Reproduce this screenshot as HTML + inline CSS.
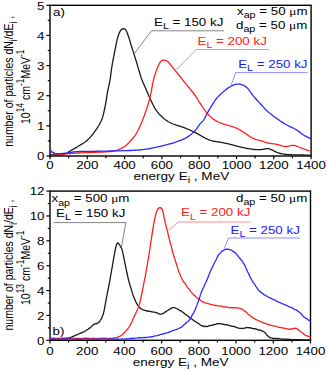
<!DOCTYPE html>
<html><head><meta charset="utf-8"><style>
html,body{margin:0;padding:0;background:#fff;overflow:hidden}
svg{display:block}
text{font-family:"Liberation Sans",sans-serif}
</style></head><body>
<svg width="327" height="370" viewBox="0 0 327 370">
<rect width="327" height="370" fill="#fff"/>
<rect x="50.0" y="5.3" width="261.1" height="150.7" fill="none" stroke="#000" stroke-width="1.4"/>
<line x1="50.00" y1="156.0" x2="50.00" y2="159.2" stroke="#000" stroke-width="1.2"/>
<line x1="68.65" y1="156.0" x2="68.65" y2="158.2" stroke="#000" stroke-width="1.2"/>
<line x1="87.30" y1="156.0" x2="87.30" y2="159.2" stroke="#000" stroke-width="1.2"/>
<line x1="105.95" y1="156.0" x2="105.95" y2="158.2" stroke="#000" stroke-width="1.2"/>
<line x1="124.60" y1="156.0" x2="124.60" y2="159.2" stroke="#000" stroke-width="1.2"/>
<line x1="143.25" y1="156.0" x2="143.25" y2="158.2" stroke="#000" stroke-width="1.2"/>
<line x1="161.90" y1="156.0" x2="161.90" y2="159.2" stroke="#000" stroke-width="1.2"/>
<line x1="180.55" y1="156.0" x2="180.55" y2="158.2" stroke="#000" stroke-width="1.2"/>
<line x1="199.20" y1="156.0" x2="199.20" y2="159.2" stroke="#000" stroke-width="1.2"/>
<line x1="217.85" y1="156.0" x2="217.85" y2="158.2" stroke="#000" stroke-width="1.2"/>
<line x1="236.50" y1="156.0" x2="236.50" y2="159.2" stroke="#000" stroke-width="1.2"/>
<line x1="255.15" y1="156.0" x2="255.15" y2="158.2" stroke="#000" stroke-width="1.2"/>
<line x1="273.80" y1="156.0" x2="273.80" y2="159.2" stroke="#000" stroke-width="1.2"/>
<line x1="292.45" y1="156.0" x2="292.45" y2="158.2" stroke="#000" stroke-width="1.2"/>
<line x1="311.10" y1="156.0" x2="311.10" y2="159.2" stroke="#000" stroke-width="1.2"/>
<line x1="46.4" y1="156.00" x2="50.0" y2="156.00" stroke="#000" stroke-width="1.2"/>
<line x1="47.8" y1="140.93" x2="50.0" y2="140.93" stroke="#000" stroke-width="1.2"/>
<line x1="46.4" y1="125.86" x2="50.0" y2="125.86" stroke="#000" stroke-width="1.2"/>
<line x1="47.8" y1="110.79" x2="50.0" y2="110.79" stroke="#000" stroke-width="1.2"/>
<line x1="46.4" y1="95.72" x2="50.0" y2="95.72" stroke="#000" stroke-width="1.2"/>
<line x1="47.8" y1="80.65" x2="50.0" y2="80.65" stroke="#000" stroke-width="1.2"/>
<line x1="46.4" y1="65.58" x2="50.0" y2="65.58" stroke="#000" stroke-width="1.2"/>
<line x1="47.8" y1="50.51" x2="50.0" y2="50.51" stroke="#000" stroke-width="1.2"/>
<line x1="46.4" y1="35.44" x2="50.0" y2="35.44" stroke="#000" stroke-width="1.2"/>
<line x1="47.8" y1="20.37" x2="50.0" y2="20.37" stroke="#000" stroke-width="1.2"/>
<line x1="46.4" y1="5.30" x2="50.0" y2="5.30" stroke="#000" stroke-width="1.2"/>
<rect x="50.0" y="191.1" width="260.5" height="149.20000000000002" fill="none" stroke="#000" stroke-width="1.4"/>
<line x1="50.00" y1="340.3" x2="50.00" y2="343.5" stroke="#000" stroke-width="1.2"/>
<line x1="68.61" y1="340.3" x2="68.61" y2="342.5" stroke="#000" stroke-width="1.2"/>
<line x1="87.21" y1="340.3" x2="87.21" y2="343.5" stroke="#000" stroke-width="1.2"/>
<line x1="105.82" y1="340.3" x2="105.82" y2="342.5" stroke="#000" stroke-width="1.2"/>
<line x1="124.43" y1="340.3" x2="124.43" y2="343.5" stroke="#000" stroke-width="1.2"/>
<line x1="143.04" y1="340.3" x2="143.04" y2="342.5" stroke="#000" stroke-width="1.2"/>
<line x1="161.64" y1="340.3" x2="161.64" y2="343.5" stroke="#000" stroke-width="1.2"/>
<line x1="180.25" y1="340.3" x2="180.25" y2="342.5" stroke="#000" stroke-width="1.2"/>
<line x1="198.86" y1="340.3" x2="198.86" y2="343.5" stroke="#000" stroke-width="1.2"/>
<line x1="217.46" y1="340.3" x2="217.46" y2="342.5" stroke="#000" stroke-width="1.2"/>
<line x1="236.07" y1="340.3" x2="236.07" y2="343.5" stroke="#000" stroke-width="1.2"/>
<line x1="254.68" y1="340.3" x2="254.68" y2="342.5" stroke="#000" stroke-width="1.2"/>
<line x1="273.29" y1="340.3" x2="273.29" y2="343.5" stroke="#000" stroke-width="1.2"/>
<line x1="291.89" y1="340.3" x2="291.89" y2="342.5" stroke="#000" stroke-width="1.2"/>
<line x1="310.50" y1="340.3" x2="310.50" y2="343.5" stroke="#000" stroke-width="1.2"/>
<line x1="46.4" y1="340.30" x2="50.0" y2="340.30" stroke="#000" stroke-width="1.2"/>
<line x1="47.8" y1="327.87" x2="50.0" y2="327.87" stroke="#000" stroke-width="1.2"/>
<line x1="46.4" y1="315.43" x2="50.0" y2="315.43" stroke="#000" stroke-width="1.2"/>
<line x1="47.8" y1="303.00" x2="50.0" y2="303.00" stroke="#000" stroke-width="1.2"/>
<line x1="46.4" y1="290.57" x2="50.0" y2="290.57" stroke="#000" stroke-width="1.2"/>
<line x1="47.8" y1="278.13" x2="50.0" y2="278.13" stroke="#000" stroke-width="1.2"/>
<line x1="46.4" y1="265.70" x2="50.0" y2="265.70" stroke="#000" stroke-width="1.2"/>
<line x1="47.8" y1="253.27" x2="50.0" y2="253.27" stroke="#000" stroke-width="1.2"/>
<line x1="46.4" y1="240.83" x2="50.0" y2="240.83" stroke="#000" stroke-width="1.2"/>
<line x1="47.8" y1="228.40" x2="50.0" y2="228.40" stroke="#000" stroke-width="1.2"/>
<line x1="46.4" y1="215.97" x2="50.0" y2="215.97" stroke="#000" stroke-width="1.2"/>
<line x1="47.8" y1="203.53" x2="50.0" y2="203.53" stroke="#000" stroke-width="1.2"/>
<line x1="46.4" y1="191.10" x2="50.0" y2="191.10" stroke="#000" stroke-width="1.2"/>
<polyline points="50.50,154.80 51.10,154.82 51.91,154.85 52.87,154.89 53.94,154.93 55.04,154.97 56.12,154.99 57.13,155.01 58.00,155.00 58.76,154.97 59.47,154.94 60.15,154.89 60.78,154.82 61.38,154.75 61.95,154.68 62.49,154.59 63.00,154.50 63.47,154.41 63.88,154.31 64.25,154.21 64.59,154.11 64.92,153.98 65.25,153.85 65.61,153.69 66.00,153.50 66.41,153.29 66.83,153.05 67.25,152.79 67.68,152.51 68.13,152.22 68.59,151.92 69.08,151.61 69.60,151.30 70.14,150.98 70.71,150.66 71.29,150.33 71.89,149.99 72.52,149.64 73.16,149.28 73.82,148.90 74.50,148.50 75.21,148.08 75.94,147.65 76.70,147.20 77.47,146.73 78.26,146.26 79.05,145.77 79.83,145.29 80.60,144.80 81.35,144.33 82.10,143.90 82.83,143.47 83.58,143.03 84.32,142.55 85.09,142.02 85.88,141.41 86.70,140.70 87.55,139.91 88.44,139.05 89.35,138.14 90.27,137.16 91.20,136.11 92.14,135.01 93.07,133.84 94.00,132.60 94.95,131.28 95.93,129.87 96.93,128.38 97.93,126.83 98.90,125.24 99.81,123.63 100.66,122.01 101.40,120.40 102.04,118.79 102.59,117.17 103.08,115.52 103.51,113.86 103.90,112.18 104.27,110.48 104.63,108.75 105.00,107.00 105.37,105.20 105.70,103.34 106.02,101.44 106.32,99.53 106.61,97.62 106.90,95.75 107.20,93.94 107.50,92.20 107.82,90.56 108.14,89.01 108.46,87.52 108.78,86.06 109.10,84.60 109.41,83.12 109.71,81.60 110.00,80.00 110.27,78.33 110.52,76.62 110.75,74.88 110.98,73.11 111.21,71.31 111.46,69.51 111.72,67.70 112.00,65.90 112.31,64.08 112.65,62.23 113.00,60.35 113.36,58.48 113.72,56.61 114.09,54.76 114.45,52.96 114.80,51.20 115.14,49.46 115.48,47.72 115.82,45.98 116.15,44.29 116.48,42.65 116.82,41.09 117.16,39.63 117.50,38.30 117.85,37.08 118.20,35.96 118.55,34.93 118.90,33.98 119.25,33.12 119.60,32.34 119.95,31.63 120.30,31.00 120.64,30.46 120.98,30.01 121.32,29.65 121.65,29.36 121.98,29.14 122.32,28.98 122.66,28.87 123.00,28.80 123.35,28.76 123.70,28.76 124.05,28.81 124.40,28.91 124.75,29.09 125.10,29.33 125.45,29.67 125.80,30.10 126.14,30.64 126.48,31.28 126.82,32.00 127.15,32.81 127.48,33.67 127.82,34.58 128.16,35.53 128.50,36.50 128.85,37.52 129.20,38.62 129.55,39.78 129.90,40.98 130.25,42.19 130.60,43.40 130.95,44.57 131.30,45.70 131.64,46.78 131.98,47.82 132.32,48.84 132.65,49.86 132.98,50.87 133.32,51.89 133.66,52.93 134.00,54.00 134.35,55.10 134.70,56.22 135.05,57.35 135.40,58.49 135.75,59.65 136.10,60.80 136.45,61.95 136.80,63.10 137.14,64.26 137.49,65.43 137.83,66.61 138.17,67.79 138.51,68.96 138.84,70.10 139.17,71.22 139.50,72.30 139.81,73.32 140.10,74.28 140.38,75.21 140.66,76.12 140.95,77.03 141.26,77.97 141.61,78.95 142.00,80.00 142.44,81.10 142.90,82.23 143.40,83.38 143.92,84.57 144.46,85.79 145.03,87.05 145.61,88.35 146.20,89.70 146.82,91.12 147.47,92.64 148.14,94.21 148.82,95.81 149.52,97.41 150.22,98.98 150.92,100.49 151.60,101.90 152.26,103.23 152.89,104.50 153.51,105.72 154.13,106.91 154.78,108.06 155.46,109.19 156.20,110.30 157.00,111.40 157.88,112.50 158.84,113.61 159.84,114.70 160.88,115.76 161.94,116.79 163.01,117.76 164.07,118.67 165.10,119.50 166.09,120.24 167.06,120.90 168.02,121.49 168.98,122.03 169.96,122.54 170.99,123.02 172.06,123.51 173.20,124.00 174.42,124.48 175.71,124.94 177.05,125.36 178.42,125.78 179.82,126.20 181.23,126.64 182.63,127.10 184.00,127.60 185.39,128.15 186.83,128.75 188.29,129.37 189.74,130.01 191.16,130.65 192.51,131.27 193.77,131.86 194.90,132.40 195.90,132.90 196.80,133.37 197.60,133.82 198.34,134.24 199.03,134.65 199.69,135.05 200.34,135.43 201.00,135.80 201.65,136.16 202.25,136.49 202.82,136.81 203.37,137.11 203.93,137.41 204.49,137.70 205.07,138.00 205.70,138.30 206.35,138.61 207.01,138.93 207.69,139.26 208.37,139.57 209.09,139.88 209.82,140.18 210.59,140.45 211.40,140.70 212.24,140.91 213.10,141.09 213.99,141.24 214.91,141.38 215.86,141.52 216.84,141.66 217.85,141.82 218.90,142.00 220.00,142.21 221.18,142.43 222.40,142.67 223.64,142.91 224.89,143.16 226.11,143.41 227.29,143.66 228.40,143.90 229.44,144.14 230.44,144.38 231.39,144.61 232.33,144.85 233.24,145.09 234.15,145.33 235.07,145.56 236.00,145.80 236.94,146.04 237.88,146.29 238.82,146.53 239.75,146.78 240.68,147.02 241.62,147.26 242.56,147.49 243.50,147.70 244.47,147.91 245.48,148.11 246.51,148.31 247.52,148.49 248.52,148.67 249.46,148.83 250.33,148.98 251.10,149.10 251.75,149.20 252.27,149.28 252.72,149.34 253.12,149.39 253.51,149.42 253.93,149.45 254.41,149.48 255.00,149.50 255.69,149.53 256.44,149.55 257.25,149.57 258.09,149.58 258.95,149.58 259.81,149.57 260.67,149.55 261.50,149.50 262.33,149.41 263.18,149.28 264.03,149.12 264.89,148.96 265.72,148.80 266.53,148.68 267.29,148.60 268.00,148.60 268.63,148.66 269.18,148.77 269.68,148.93 270.16,149.11 270.63,149.33 271.13,149.57 271.68,149.83 272.30,150.10 272.98,150.41 273.70,150.76 274.45,151.15 275.23,151.55 276.04,151.95 276.89,152.34 277.78,152.69 278.70,153.00 279.66,153.26 280.66,153.50 281.70,153.71 282.77,153.91 283.88,154.08 285.02,154.24 286.20,154.37 287.40,154.50 288.64,154.60 289.92,154.68 291.23,154.74 292.57,154.78 293.95,154.81 295.35,154.84 296.76,154.87 298.20,154.90 299.75,154.94 301.46,154.97 303.24,155.00 305.03,155.03 306.72,155.05 308.25,155.07 309.54,155.09 310.50,155.10" fill="none" stroke="#1a1a1a" stroke-width="1.3" stroke-linejoin="round" stroke-linecap="round"/>
<polyline points="50.50,151.50 50.91,151.71 51.43,152.01 52.05,152.36 52.75,152.75 53.51,153.14 54.32,153.49 55.16,153.79 56.00,154.00 56.84,154.13 57.68,154.20 58.55,154.23 59.47,154.22 60.45,154.18 61.52,154.13 62.70,154.06 64.00,154.00 65.42,153.92 66.91,153.82 68.50,153.69 70.19,153.55 71.97,153.40 73.87,153.26 75.87,153.12 78.00,153.00 80.33,152.89 82.91,152.80 85.64,152.70 88.46,152.61 91.29,152.52 94.04,152.42 96.63,152.32 99.00,152.20 101.16,152.09 103.21,151.99 105.15,151.89 107.00,151.78 108.76,151.65 110.44,151.49 112.05,151.27 113.60,151.00 115.08,150.67 116.46,150.30 117.77,149.89 119.00,149.44 120.17,148.95 121.29,148.43 122.36,147.88 123.40,147.30 124.37,146.70 125.26,146.09 126.08,145.45 126.86,144.78 127.61,144.05 128.38,143.27 129.16,142.43 130.00,141.50 130.88,140.52 131.78,139.52 132.69,138.46 133.61,137.34 134.54,136.13 135.47,134.82 136.39,133.38 137.30,131.80 138.22,130.05 139.15,128.12 140.08,126.06 141.01,123.89 141.93,121.67 142.82,119.42 143.68,117.19 144.50,115.00 145.28,112.84 146.04,110.65 146.77,108.45 147.48,106.24 148.16,104.02 148.81,101.80 149.42,99.60 150.00,97.40 150.53,95.17 151.01,92.89 151.45,90.59 151.87,88.31 152.27,86.07 152.66,83.92 153.07,81.88 153.50,80.00 153.94,78.27 154.39,76.65 154.84,75.14 155.29,73.72 155.74,72.38 156.19,71.10 156.64,69.88 157.10,68.70 157.56,67.55 158.02,66.45 158.48,65.40 158.94,64.42 159.41,63.51 159.87,62.70 160.34,61.99 160.80,61.40 161.26,60.94 161.73,60.60 162.19,60.38 162.66,60.24 163.12,60.17 163.58,60.15 164.04,60.17 164.50,60.20 164.95,60.26 165.40,60.36 165.85,60.51 166.30,60.70 166.75,60.94 167.20,61.22 167.65,61.54 168.10,61.90 168.55,62.31 168.99,62.77 169.43,63.28 169.87,63.82 170.32,64.41 170.79,65.02 171.28,65.65 171.80,66.30 172.36,66.98 172.94,67.71 173.55,68.46 174.18,69.24 174.81,70.04 175.45,70.84 176.08,71.63 176.70,72.40 177.33,73.18 177.98,74.00 178.65,74.82 179.31,75.64 179.95,76.43 180.55,77.19 181.11,77.88 181.60,78.50 181.96,78.96 182.18,79.24 182.31,79.43 182.43,79.59 182.59,79.81 182.86,80.17 183.31,80.74 184.00,81.60 185.00,82.82 186.26,84.35 187.72,86.10 189.28,87.98 190.86,89.90 192.38,91.77 193.76,93.50 194.90,95.00 195.80,96.26 196.52,97.36 197.13,98.35 197.66,99.28 198.16,100.19 198.69,101.11 199.28,102.10 200.00,103.20 200.83,104.43 201.73,105.75 202.67,107.14 203.65,108.55 204.65,109.95 205.65,111.30 206.64,112.56 207.60,113.70 208.54,114.73 209.48,115.70 210.42,116.60 211.35,117.44 212.28,118.23 213.22,118.97 214.16,119.65 215.10,120.30 216.05,120.89 216.99,121.40 217.94,121.86 218.89,122.27 219.85,122.65 220.80,123.00 221.75,123.35 222.70,123.70 223.65,124.04 224.60,124.34 225.55,124.62 226.50,124.89 227.45,125.15 228.40,125.42 229.35,125.70 230.30,126.00 231.25,126.31 232.20,126.62 233.15,126.93 234.11,127.25 235.06,127.59 236.01,127.95 236.95,128.36 237.90,128.80 238.84,129.30 239.78,129.84 240.72,130.42 241.65,131.03 242.58,131.65 243.52,132.27 244.46,132.89 245.40,133.50 246.34,134.11 247.27,134.74 248.20,135.39 249.14,136.03 250.08,136.66 251.03,137.25 252.01,137.80 253.00,138.30 254.03,138.73 255.11,139.12 256.21,139.46 257.32,139.77 258.42,140.06 259.49,140.34 260.53,140.61 261.50,140.90 262.39,141.19 263.22,141.48 263.99,141.76 264.74,142.03 265.50,142.29 266.27,142.54 267.10,142.78 268.00,143.00 268.97,143.19 270.00,143.36 271.07,143.51 272.17,143.64 273.28,143.78 274.40,143.93 275.51,144.10 276.60,144.30 277.67,144.55 278.75,144.86 279.82,145.20 280.89,145.55 281.97,145.88 283.04,146.16 284.12,146.38 285.20,146.50 286.28,146.49 287.37,146.36 288.46,146.14 289.55,145.89 290.64,145.64 291.73,145.45 292.82,145.35 293.90,145.40 294.98,145.60 296.07,145.91 297.16,146.31 298.24,146.77 299.32,147.25 300.39,147.74 301.45,148.20 302.50,148.60 303.58,148.97 304.73,149.35 305.90,149.73 307.04,150.10 308.11,150.44 309.08,150.75 309.89,151.00 310.50,151.20" fill="none" stroke="#ff2020" stroke-width="1.3" stroke-linejoin="round" stroke-linecap="round"/>
<polyline points="50.50,150.40 50.69,150.57 50.93,150.80 51.22,151.08 51.54,151.38 51.89,151.69 52.26,152.00 52.63,152.27 53.00,152.50 53.36,152.69 53.72,152.87 54.08,153.04 54.46,153.19 54.87,153.32 55.30,153.43 55.78,153.53 56.30,153.60 56.88,153.65 57.50,153.67 58.16,153.68 58.86,153.66 59.57,153.63 60.31,153.60 61.05,153.55 61.80,153.50 62.53,153.44 63.26,153.38 63.98,153.30 64.73,153.22 65.51,153.13 66.34,153.02 67.23,152.92 68.20,152.80 69.18,152.67 70.12,152.52 71.09,152.35 72.12,152.18 73.28,152.01 74.61,151.86 76.17,151.72 78.00,151.60 80.11,151.51 82.45,151.45 85.00,151.40 87.74,151.37 90.63,151.34 93.65,151.30 96.78,151.26 100.00,151.20 103.46,151.13 107.26,151.06 111.27,150.99 115.36,150.91 119.41,150.82 123.28,150.72 126.86,150.62 130.00,150.50 132.69,150.38 135.02,150.27 137.09,150.15 138.96,150.02 140.73,149.87 142.47,149.69 144.27,149.47 146.20,149.20 148.24,148.88 150.31,148.51 152.39,148.10 154.46,147.66 156.52,147.20 158.53,146.73 160.50,146.26 162.40,145.80 164.24,145.35 166.05,144.90 167.81,144.44 169.54,143.97 171.22,143.50 172.86,143.02 174.45,142.52 176.00,142.00 177.50,141.48 178.96,140.95 180.37,140.42 181.74,139.88 183.07,139.31 184.36,138.71 185.60,138.08 186.80,137.40 187.96,136.67 189.09,135.90 190.17,135.08 191.21,134.24 192.20,133.38 193.15,132.51 194.05,131.65 194.90,130.80 195.69,129.94 196.42,129.05 197.09,128.14 197.72,127.24 198.32,126.35 198.89,125.51 199.45,124.72 200.00,124.00 200.53,123.39 201.03,122.87 201.49,122.42 201.94,122.00 202.38,121.58 202.81,121.13 203.25,120.61 203.70,120.00 204.15,119.28 204.60,118.49 205.05,117.64 205.50,116.75 205.95,115.84 206.40,114.94 206.85,114.05 207.30,113.20 207.75,112.39 208.18,111.62 208.60,110.85 209.03,110.09 209.48,109.32 209.95,108.52 210.45,107.69 211.00,106.80 211.60,105.83 212.25,104.79 212.93,103.70 213.64,102.59 214.36,101.49 215.08,100.42 215.80,99.42 216.50,98.50 217.19,97.67 217.88,96.91 218.56,96.19 219.25,95.52 219.94,94.87 220.62,94.25 221.31,93.63 222.00,93.00 222.69,92.37 223.40,91.74 224.10,91.13 224.81,90.52 225.50,89.95 226.19,89.40 226.86,88.88 227.50,88.40 228.12,87.96 228.71,87.56 229.29,87.20 229.86,86.86 230.41,86.54 230.97,86.25 231.53,85.97 232.10,85.70 232.67,85.44 233.23,85.19 233.79,84.96 234.34,84.74 234.91,84.56 235.49,84.40 236.08,84.28 236.70,84.20 237.34,84.15 238.01,84.13 238.70,84.14 239.39,84.18 240.10,84.26 240.80,84.39 241.51,84.57 242.20,84.80 242.89,85.08 243.57,85.40 244.26,85.76 244.95,86.17 245.64,86.64 246.32,87.16 247.01,87.75 247.70,88.40 248.37,89.13 249.01,89.94 249.64,90.82 250.27,91.75 250.93,92.73 251.63,93.73 252.38,94.76 253.20,95.80 254.12,96.88 255.12,98.03 256.19,99.22 257.29,100.44 258.40,101.65 259.49,102.83 260.53,103.95 261.50,105.00 262.37,105.96 263.15,106.84 263.88,107.67 264.60,108.47 265.33,109.26 266.12,110.06 267.00,110.90 268.00,111.80 269.15,112.77 270.43,113.80 271.79,114.86 273.21,115.94 274.65,117.00 276.07,118.03 277.43,119.01 278.70,119.90 279.88,120.71 281.02,121.47 282.11,122.17 283.18,122.84 284.23,123.47 285.28,124.09 286.33,124.70 287.40,125.30 288.49,125.88 289.58,126.43 290.68,126.94 291.77,127.45 292.85,127.96 293.92,128.47 294.97,129.02 296.00,129.60 297.00,130.23 297.99,130.91 298.95,131.62 299.91,132.34 300.85,133.05 301.77,133.74 302.69,134.40 303.60,135.00 304.54,135.57 305.54,136.13 306.54,136.67 307.53,137.19 308.45,137.66 309.28,138.07 309.97,138.43 310.50,138.70" fill="none" stroke="#2a2aff" stroke-width="1.3" stroke-linejoin="round" stroke-linecap="round"/>
<polyline points="50.50,338.80 51.21,338.82 52.16,339.09 53.28,338.63 54.54,339.13 55.87,338.76 57.22,338.82 58.55,339.05 59.80,338.75 61.02,338.77 62.27,338.39 63.55,338.74 64.82,338.52 66.09,338.28 67.31,338.40 68.49,337.92 69.60,337.77 70.64,337.28 71.63,337.08 72.57,336.55 73.48,336.15 74.36,335.99 75.22,335.27 76.06,334.97 76.90,334.89 77.72,334.55 78.51,334.10 79.28,333.72 80.03,333.30 80.77,332.96 81.50,333.15 82.25,332.57 83.00,331.97 83.77,331.87 84.55,331.55 85.34,331.00 86.12,330.71 86.90,329.70 87.66,329.51 88.39,328.98 89.10,328.24 89.78,328.06 90.44,327.62 91.08,326.89 91.70,326.10 92.30,325.88 92.89,325.16 93.45,324.69 94.00,324.45 94.52,323.82 95.01,324.05 95.48,323.88 95.93,323.88 96.37,323.46 96.80,323.73 97.25,323.19 97.70,322.85 98.17,322.94 98.65,322.52 99.14,322.06 99.62,321.29 100.09,320.59 100.55,319.81 100.99,319.52 101.40,318.83 101.78,318.12 102.14,316.95 102.48,316.03 102.81,315.34 103.12,314.45 103.42,313.51 103.71,311.93 104.00,310.99 104.27,310.04 104.52,308.50 104.76,307.30 104.99,305.61 105.22,304.60 105.46,303.30 105.72,301.75 106.00,300.23 106.31,298.49 106.65,296.56 107.00,295.13 107.36,293.01 107.72,291.57 108.09,289.28 108.45,287.91 108.80,285.70 109.14,284.03 109.48,282.20 109.82,280.62 110.15,278.51 110.48,276.81 110.82,274.72 111.16,272.99 111.50,271.15 111.85,268.93 112.22,267.09 112.59,264.71 112.96,262.69 113.32,260.46 113.67,258.25 114.00,256.60 114.30,254.78 114.57,253.43 114.82,251.85 115.05,250.81 115.26,249.56 115.47,249.11 115.67,247.80 115.88,247.01 116.10,246.14 116.32,245.53 116.55,245.18 116.77,244.55 116.99,243.69 117.22,243.41 117.44,243.10 117.67,243.02 117.90,242.77 118.13,242.89 118.37,243.23 118.61,243.49 118.85,243.67 119.09,244.17 119.33,244.59 119.57,244.88 119.80,245.32 120.03,245.68 120.26,245.98 120.48,246.23 120.71,246.66 120.93,247.20 121.15,247.44 121.38,247.90 121.60,248.46 121.82,249.01 122.03,249.91 122.23,250.53 122.44,251.26 122.65,251.94 122.88,253.20 123.13,254.18 123.40,255.38 123.70,257.03 124.03,258.81 124.38,260.26 124.74,262.37 125.11,264.10 125.48,265.72 125.85,268.00 126.20,269.34 126.54,270.88 126.88,272.78 127.22,273.89 127.55,275.78 127.88,276.93 128.22,278.50 128.56,279.79 128.90,281.50 129.25,282.52 129.60,284.09 129.95,285.07 130.30,286.25 130.65,287.25 131.00,288.22 131.35,289.36 131.70,290.76 132.03,291.39 132.33,292.90 132.62,293.78 132.92,294.55 133.23,295.71 133.57,296.57 133.96,297.59 134.40,298.70 134.90,299.51 135.44,300.97 136.02,302.45 136.64,303.24 137.28,304.68 137.94,305.58 138.62,306.41 139.30,307.64 140.02,307.78 140.78,308.50 141.57,309.36 142.37,309.29 143.17,309.95 143.95,310.06 144.70,310.43 145.40,310.58 146.04,310.65 146.64,311.06 147.21,310.76 147.76,311.11 148.30,311.15 148.85,311.30 149.41,311.18 150.00,311.33 150.60,311.64 151.21,311.62 151.82,311.94 152.44,311.91 153.07,312.16 153.72,312.17 154.40,312.21 155.10,312.17 155.84,312.69 156.61,312.66 157.40,312.90 158.22,313.77 159.04,313.81 159.87,314.18 160.69,314.16 161.50,314.17 162.30,313.60 163.10,313.33 163.90,313.13 164.69,312.52 165.49,311.68 166.29,311.57 167.10,310.55 167.90,310.31 168.71,309.67 169.52,309.56 170.33,308.85 171.15,308.34 171.97,307.92 172.78,307.71 173.59,307.55 174.40,307.72 175.20,307.78 175.98,308.32 176.75,308.67 177.53,309.01 178.31,309.43 179.11,310.08 179.94,310.69 180.80,310.71 181.70,311.37 182.63,312.18 183.59,312.73 184.57,313.77 185.56,314.32 186.54,315.09 187.53,315.85 188.50,316.46 189.46,317.56 190.43,318.23 191.39,318.93 192.36,319.32 193.32,320.27 194.28,321.12 195.24,321.46 196.20,322.23 197.16,322.63 198.13,323.30 199.11,323.99 200.07,324.70 201.03,325.27 201.98,325.98 202.90,326.02 203.80,326.11 204.66,326.74 205.47,326.31 206.27,326.26 207.04,326.65 207.82,326.34 208.62,325.89 209.44,325.56 210.30,325.53 211.21,325.31 212.17,325.38 213.16,324.84 214.16,324.36 215.15,324.60 216.14,324.17 217.09,323.69 218.00,323.57 218.87,323.74 219.71,323.53 220.53,323.90 221.33,323.98 222.12,323.75 222.89,324.33 223.65,324.45 224.40,324.65 225.11,324.61 225.75,324.74 226.35,324.54 226.96,324.57 227.59,324.75 228.29,325.45 229.08,325.46 230.00,325.87 231.08,325.81 232.31,326.42 233.63,326.43 235.02,326.92 236.42,327.41 237.80,327.95 239.10,328.24 240.30,328.40 241.39,328.41 242.41,328.45 243.38,328.54 244.31,328.04 245.23,328.08 246.14,327.45 247.06,327.54 248.00,327.64 248.96,327.75 249.93,327.66 250.89,327.92 251.85,328.46 252.81,328.52 253.77,328.73 254.74,328.68 255.70,328.93 256.67,329.28 257.66,329.47 258.64,330.22 259.63,329.89 260.61,330.41 261.57,330.57 262.50,331.31 263.40,331.43 264.24,332.03 265.03,332.75 265.78,333.66 266.52,334.67 267.27,335.62 268.05,336.07 268.88,336.75 269.80,337.59 270.77,337.93 271.78,337.83 272.81,338.41 273.89,338.56 275.03,338.25 276.21,338.59 277.47,338.41 278.80,338.55 280.19,338.83 281.62,338.95 283.11,339.04 284.67,339.17 286.30,339.07 288.00,339.50 289.80,339.29 291.70,339.75 293.85,339.59 296.32,339.54 298.97,339.53 301.66,339.79 304.24,339.79 306.59,339.99 308.55,339.96 310.00,340.00" fill="none" stroke="#1a1a1a" stroke-width="1.3" stroke-linejoin="round" stroke-linecap="round"/>
<polyline points="50.50,338.30 52.48,338.16 54.45,338.18 56.28,338.49 58.12,338.06 59.95,338.37 61.59,338.45 63.23,338.13 64.88,338.05 66.52,338.18 68.31,338.42 70.10,338.36 71.90,338.12 73.69,338.29 75.52,338.43 77.34,338.29 79.16,338.42 80.99,338.62 82.73,338.45 84.47,338.27 86.20,338.15 87.94,338.25 89.47,338.34 91.00,338.56 92.53,338.49 94.06,338.21 95.67,338.57 97.29,338.29 98.90,338.42 100.71,338.06 102.51,338.05 105.38,338.11 107.65,338.53 109.47,338.41 110.97,338.48 112.29,338.27 113.59,337.97 115.00,337.81 116.41,337.55 117.63,337.34 118.71,336.65 119.67,336.45 120.56,335.75 121.40,335.30 122.24,334.47 123.10,333.92 123.97,332.98 124.79,332.32 125.58,331.33 126.34,330.39 127.08,329.44 127.80,328.88 128.50,327.72 129.20,326.94 129.88,325.80 130.52,324.37 131.15,323.50 131.76,322.03 132.37,320.83 132.97,319.28 133.58,317.80 134.20,316.40 134.83,315.07 135.47,314.04 136.10,312.48 136.74,311.10 137.38,310.16 138.02,308.12 138.66,306.49 139.30,304.39 139.96,301.97 140.63,299.05 140.97,297.76 141.31,296.10 141.65,294.36 141.99,292.76 142.32,291.03 142.66,289.64 142.99,287.56 143.31,286.19 143.62,284.53 143.93,282.65 144.50,279.88 145.03,277.53 145.54,274.78 146.01,271.73 146.46,269.39 146.89,266.76 147.31,264.85 147.71,262.07 148.10,259.73 148.47,258.06 148.82,255.61 149.15,253.47 149.46,251.30 149.77,249.51 150.07,247.51 150.38,245.58 150.70,243.20 151.02,241.15 151.35,239.00 151.67,236.91 151.99,234.61 152.32,232.60 152.64,230.26 152.97,228.59 153.30,226.68 153.64,224.27 153.98,222.52 154.33,220.93 154.68,219.34 155.02,217.29 155.36,215.86 155.69,214.66 156.00,213.60 156.30,212.74 156.59,211.89 156.87,211.16 157.14,210.15 157.40,210.24 157.67,209.61 157.93,208.91 158.20,208.65 158.47,208.53 158.73,208.09 158.99,207.89 159.25,207.92 159.51,207.80 159.77,207.57 160.03,207.72 160.30,207.54 160.57,207.98 160.85,207.90 161.12,208.30 161.40,208.00 161.68,208.83 161.95,209.08 162.23,209.73 162.50,210.12 162.76,211.19 163.01,212.03 163.25,213.05 163.49,214.22 163.74,216.07 164.00,217.29 164.29,218.41 164.60,219.85 164.95,221.43 165.32,223.17 165.72,224.34 166.13,226.48 166.55,228.13 166.97,229.37 167.39,231.25 167.80,232.72 168.19,234.51 168.57,235.71 168.95,237.50 169.33,239.14 169.71,240.76 170.12,242.42 170.54,244.20 171.00,245.54 171.49,247.29 171.99,249.28 172.52,251.29 173.06,253.47 173.62,255.27 174.20,257.24 174.79,259.34 175.40,260.86 176.02,262.82 176.66,264.93 177.31,266.91 177.98,269.15 178.66,271.33 179.36,272.78 180.07,274.82 180.80,276.61 181.54,278.04 182.30,279.72 183.07,280.93 183.86,282.27 184.66,283.02 185.49,284.24 186.33,285.34 187.20,287.00 188.09,288.30 189.01,288.96 189.94,290.63 190.89,291.79 191.87,293.05 192.86,293.79 193.87,295.13 194.90,295.84 195.95,296.70 197.01,298.01 198.09,298.46 199.19,299.67 200.31,300.19 201.45,301.03 202.61,301.93 203.80,302.15 205.02,302.81 206.28,303.18 207.56,303.46 208.86,303.97 210.18,304.09 211.49,304.74 212.80,304.90 214.10,304.97 215.41,305.65 216.76,305.53 218.13,305.96 219.48,306.21 220.81,306.14 222.09,306.17 223.29,306.88 224.40,307.07 225.39,306.74 226.25,306.85 227.04,307.12 227.78,307.30 228.51,307.61 229.27,307.69 230.09,307.79 231.00,307.45 232.04,307.76 233.17,307.76 234.38,307.73 235.60,307.73 236.81,307.90 237.97,308.15 239.05,308.15 240.00,308.39 240.81,308.56 241.52,309.15 242.14,309.35 242.71,309.50 243.26,310.00 243.80,310.29 244.37,310.85 245.00,311.46 245.66,311.62 246.31,312.38 246.96,312.75 247.63,313.84 248.32,314.33 249.04,314.73 249.80,315.43 250.60,316.00 251.44,316.60 252.32,317.25 253.22,318.14 254.16,318.49 255.13,318.95 256.14,319.58 257.20,320.03 258.30,320.84 259.46,320.97 260.69,321.62 261.98,322.16 263.29,322.59 264.63,323.41 265.97,323.55 267.30,324.06 268.60,324.33 269.88,325.13 271.15,325.25 272.43,325.75 273.70,325.79 274.97,325.96 276.25,326.43 277.52,326.99 278.80,327.30 280.11,327.31 281.46,327.93 282.82,327.77 284.18,328.37 285.51,328.49 286.79,328.85 287.99,328.91 289.10,329.44 290.10,329.09 291.03,329.38 291.88,328.70 292.68,328.68 293.43,328.50 294.16,328.51 294.88,328.23 295.60,328.40 296.30,328.35 296.97,328.82 297.62,329.45 298.24,329.53 298.85,330.24 299.46,330.60 300.07,331.05 300.70,331.47 301.34,332.34 302.00,332.74 302.65,333.06 303.31,333.55 303.95,334.25 304.59,334.61 305.21,335.21 305.80,335.55 306.40,335.57 307.01,335.92 307.63,336.04 308.22,336.07 308.77,336.28 309.27,336.55 309.68,336.55 310.00,336.60" fill="none" stroke="#ff2020" stroke-width="1.3" stroke-linejoin="round" stroke-linecap="round"/>
<polyline points="50.50,339.10 52.26,338.85 54.02,338.95 55.78,339.29 57.62,339.16 59.45,338.87 61.29,339.08 63.13,339.11 64.89,338.92 66.64,339.27 68.40,338.90 70.15,339.07 71.91,339.15 73.51,339.10 75.10,339.20 76.70,339.29 78.30,339.43 79.89,339.03 81.49,339.25 83.11,339.28 84.73,339.04 86.35,338.87 87.98,339.45 89.60,339.05 91.22,339.06 92.76,339.41 94.31,339.22 95.85,339.15 97.39,339.33 98.94,338.89 100.48,339.29 102.11,339.09 103.74,338.92 105.36,339.25 106.99,339.41 108.62,338.97 110.22,339.22 111.81,339.00 113.41,339.26 115.00,339.23 116.56,338.90 118.11,339.24 119.67,339.11 121.47,339.08 123.26,339.12 126.00,338.77 128.12,338.84 129.86,338.77 131.47,338.15 133.17,338.46 135.20,338.04 137.47,337.95 139.70,337.61 141.89,337.79 144.01,337.41 146.04,337.59 147.96,337.07 149.75,337.05 151.40,336.74 152.85,336.64 154.11,336.15 155.22,335.89 156.22,335.96 157.19,335.68 158.15,335.27 159.18,335.17 160.30,334.42 161.52,334.47 162.79,333.69 164.08,333.79 165.39,333.19 166.71,332.78 168.00,332.59 169.27,332.07 170.50,331.67 171.70,330.84 172.90,330.65 174.08,330.11 175.24,329.80 176.37,329.41 177.46,329.38 178.51,328.48 179.50,328.08 180.44,327.64 181.34,327.23 182.20,326.63 183.02,325.79 183.80,324.81 184.54,324.34 185.24,323.80 185.90,322.83 186.52,322.69 187.08,322.04 187.61,321.73 188.09,321.36 188.55,320.95 188.98,320.44 189.40,320.01 189.80,319.32 190.18,318.99 190.52,318.23 190.83,317.90 191.12,317.37 191.40,316.94 191.69,316.14 191.98,315.31 192.30,315.02 192.63,314.23 192.96,314.00 193.29,313.23 193.63,312.66 193.98,312.37 194.34,311.38 194.71,310.58 195.10,309.71 195.51,308.78 195.95,307.43 196.40,306.48 196.86,305.42 197.33,303.90 197.80,302.69 198.25,301.51 198.70,300.21 199.12,298.96 199.52,297.84 199.91,296.69 200.29,295.21 200.69,294.19 201.12,292.92 201.59,291.64 202.10,290.54 202.69,289.01 203.35,287.72 204.07,286.17 204.80,284.33 205.53,283.01 206.22,281.51 206.85,280.34 207.40,278.75 207.84,277.77 208.19,277.10 208.47,276.27 208.72,275.73 208.98,274.84 209.25,274.02 209.58,273.63 210.00,272.25 210.51,271.05 211.08,269.88 211.70,268.57 212.34,267.12 213.01,265.90 213.66,264.77 214.30,262.99 214.90,261.95 215.47,260.96 216.02,259.98 216.56,258.97 217.09,257.42 217.61,256.67 218.14,255.95 218.67,254.60 219.20,254.15 219.73,253.22 220.26,252.98 220.79,252.56 221.32,251.85 221.85,251.13 222.39,250.79 222.94,250.66 223.50,250.61 224.07,249.94 224.63,249.93 225.20,249.52 225.78,249.24 226.38,249.35 226.99,249.03 227.63,249.05 228.30,249.36 229.02,249.36 229.78,249.77 230.58,249.92 231.39,250.08 232.21,250.68 233.01,251.40 233.78,251.72 234.50,252.48 235.17,252.46 235.82,253.27 236.43,254.18 237.03,254.82 237.62,255.47 238.21,256.27 238.80,257.16 239.40,257.81 240.01,258.48 240.61,259.22 241.20,260.02 241.80,260.57 242.40,261.60 243.02,262.46 243.65,263.55 244.30,264.49 244.97,265.50 245.65,267.23 246.35,268.97 247.06,270.46 247.78,272.11 248.51,273.58 249.25,275.13 250.00,276.83 250.79,277.88 251.62,279.79 252.47,281.23 253.33,282.67 254.17,283.51 254.98,284.74 255.73,286.34 256.40,287.04 256.97,287.79 257.44,288.53 257.85,289.25 258.22,289.42 258.60,290.04 259.00,290.56 259.45,291.03 260.00,291.11 260.62,292.14 261.29,292.47 262.00,293.03 262.74,293.67 263.52,294.06 264.32,294.97 265.15,295.11 266.00,295.83 266.88,296.11 267.81,296.87 268.76,297.52 269.74,297.98 270.74,298.00 271.74,298.75 272.73,299.38 273.70,299.42 274.64,300.00 275.56,300.62 276.47,301.06 277.39,301.32 278.32,301.87 279.29,302.33 280.31,302.61 281.40,303.29 282.58,303.78 283.85,304.40 285.19,304.87 286.55,305.35 287.91,306.01 289.25,306.89 290.52,307.04 291.70,307.59 292.80,308.06 293.87,309.11 294.89,309.72 295.87,309.80 296.81,310.36 297.71,310.87 298.57,311.67 299.40,312.19 300.17,313.01 300.87,313.32 301.52,314.40 302.14,314.85 302.75,315.73 303.34,316.39 303.96,317.09 304.60,317.40 305.30,318.00 306.06,318.48 306.85,318.73 307.62,319.38 308.36,320.05 309.03,320.40 309.58,320.17 310.00,320.70" fill="none" stroke="#2a2aff" stroke-width="1.3" stroke-linejoin="round" stroke-linecap="round"/>
<polyline points="134,54 151.5,30.8 224,30.8" fill="none" stroke="#777" stroke-width="0.9"/>
<polyline points="176.2,70 196.3,49.5 269,49.5" fill="none" stroke="#ff8080" stroke-width="0.9"/>
<polyline points="231.2,84.8 235.8,72.6 307.5,72.6" fill="none" stroke="#8080ff" stroke-width="0.9"/>
<polyline points="121.5,247 125.8,222.6 53.5,222.6" fill="none" stroke="#777" stroke-width="0.9"/>
<polyline points="168.5,230.7 178.1,222 250.5,222" fill="none" stroke="#ff8080" stroke-width="0.9"/>
<polyline points="224.3,248.5 228.5,238 300,238" fill="none" stroke="#8080ff" stroke-width="0.9"/>
<g transform="translate(53,16.0) scale(1.27,1)"><text x="0" y="0" font-size="10.5" fill="#000" color="#000"><tspan font-size="10.50" dy="0.00">a)</tspan></text></g>
<g transform="translate(154,26.3) scale(1.27,1)"><text x="0" y="0" font-size="10.5" fill="#000" color="#000"><tspan font-size="10.50" dy="0.00">E</tspan><tspan font-size="8.40" dy="3.15">L</tspan><tspan font-size="10.50" dy="-3.15"> = 150 kJ</tspan></text></g>
<g transform="translate(197.5,45.0) scale(1.27,1)"><text x="0" y="0" font-size="10.5" fill="#ff1a1a" color="#ff1a1a"><tspan font-size="10.50" dy="0.00">E</tspan><tspan font-size="8.40" dy="3.15">L</tspan><tspan font-size="10.50" dy="-3.15"> = 200 kJ</tspan></text></g>
<g transform="translate(238.2,67.6) scale(1.27,1)"><text x="0" y="0" font-size="10.5" fill="#2020ff" color="#2020ff"><tspan font-size="10.50" dy="0.00">E</tspan><tspan font-size="8.40" dy="3.15">L</tspan><tspan font-size="10.50" dy="-3.15"> = 250 kJ</tspan></text></g>
<g transform="translate(237,14.6) scale(1.27,1)"><text x="0" y="0" font-size="10.5" fill="#000" color="#000"><tspan font-size="10.50" dy="0.00">x</tspan><tspan font-size="8.40" dy="3.15">ap</tspan><tspan font-size="10.50" dy="-3.15"> = 50 </tspan><tspan font-size="10.50" dy="0.00" font-family="Liberation Serif">μ</tspan><tspan font-size="10.50" dy="0.00">m</tspan></text></g>
<g transform="translate(236,29.2) scale(1.27,1)"><text x="0" y="0" font-size="10.5" fill="#000" color="#000"><tspan font-size="10.50" dy="0.00">d</tspan><tspan font-size="8.40" dy="3.15">ap</tspan><tspan font-size="10.50" dy="-3.15"> = 50 </tspan><tspan font-size="10.50" dy="0.00" font-family="Liberation Serif">μ</tspan><tspan font-size="10.50" dy="0.00">m</tspan></text></g>
<g transform="translate(51.5,202.4) scale(1.27,1)"><text x="0" y="0" font-size="10.5" fill="#000" color="#000"><tspan font-size="10.50" dy="0.00">x</tspan><tspan font-size="8.40" dy="3.15">ap</tspan><tspan font-size="10.50" dy="-3.15"> = 500 </tspan><tspan font-size="10.50" dy="0.00" font-family="Liberation Serif">μ</tspan><tspan font-size="10.50" dy="0.00">m</tspan></text></g>
<g transform="translate(56,216.8) scale(1.27,1)"><text x="0" y="0" font-size="10.5" fill="#000" color="#000"><tspan font-size="10.50" dy="0.00">E</tspan><tspan font-size="8.40" dy="3.15">L</tspan><tspan font-size="10.50" dy="-3.15"> = 150 kJ</tspan></text></g>
<g transform="translate(181,216.4) scale(1.27,1)"><text x="0" y="0" font-size="10.5" fill="#ff1a1a" color="#ff1a1a"><tspan font-size="10.50" dy="0.00">E</tspan><tspan font-size="8.40" dy="3.15">L</tspan><tspan font-size="10.50" dy="-3.15"> = 200 kJ</tspan></text></g>
<g transform="translate(230.5,233.8) scale(1.27,1)"><text x="0" y="0" font-size="10.5" fill="#2020ff" color="#2020ff"><tspan font-size="10.50" dy="0.00">E</tspan><tspan font-size="8.40" dy="3.15">L</tspan><tspan font-size="10.50" dy="-3.15"> = 250 kJ</tspan></text></g>
<g transform="translate(236.0,202.3) scale(1.27,1)"><text x="0" y="0" font-size="10.5" fill="#000" color="#000"><tspan font-size="10.50" dy="0.00">d</tspan><tspan font-size="8.40" dy="3.15">ap</tspan><tspan font-size="10.50" dy="-3.15"> = 50 </tspan><tspan font-size="10.50" dy="0.00" font-family="Liberation Serif">μ</tspan><tspan font-size="10.50" dy="0.00">m</tspan></text></g>
<g transform="translate(52.5,335.4) scale(1.27,1)"><text x="0" y="0" font-size="10.5" fill="#000" color="#000"><tspan font-size="10.50" dy="0.00">b)</tspan></text></g>
<g transform="translate(50.0,169.2) scale(1.27,1)"><text x="0" y="0" font-size="10.5" text-anchor="middle">0</text></g>
<g transform="translate(50.0,354.5) scale(1.27,1)"><text x="0" y="0" font-size="10.5" text-anchor="middle">0</text></g>
<g transform="translate(87.30000000000001,169.2) scale(1.27,1)"><text x="0" y="0" font-size="10.5" text-anchor="middle">200</text></g>
<g transform="translate(87.21428571428572,354.5) scale(1.27,1)"><text x="0" y="0" font-size="10.5" text-anchor="middle">200</text></g>
<g transform="translate(124.60000000000001,169.2) scale(1.27,1)"><text x="0" y="0" font-size="10.5" text-anchor="middle">400</text></g>
<g transform="translate(124.42857142857143,354.5) scale(1.27,1)"><text x="0" y="0" font-size="10.5" text-anchor="middle">400</text></g>
<g transform="translate(161.9,169.2) scale(1.27,1)"><text x="0" y="0" font-size="10.5" text-anchor="middle">600</text></g>
<g transform="translate(161.64285714285714,354.5) scale(1.27,1)"><text x="0" y="0" font-size="10.5" text-anchor="middle">600</text></g>
<g transform="translate(199.20000000000002,169.2) scale(1.27,1)"><text x="0" y="0" font-size="10.5" text-anchor="middle">800</text></g>
<g transform="translate(198.85714285714286,354.5) scale(1.27,1)"><text x="0" y="0" font-size="10.5" text-anchor="middle">800</text></g>
<g transform="translate(236.50000000000003,169.2) scale(1.27,1)"><text x="0" y="0" font-size="10.5" text-anchor="middle">1000</text></g>
<g transform="translate(236.07142857142858,354.5) scale(1.27,1)"><text x="0" y="0" font-size="10.5" text-anchor="middle">1000</text></g>
<g transform="translate(273.8,169.2) scale(1.27,1)"><text x="0" y="0" font-size="10.5" text-anchor="middle">1200</text></g>
<g transform="translate(273.2857142857143,354.5) scale(1.27,1)"><text x="0" y="0" font-size="10.5" text-anchor="middle">1200</text></g>
<g transform="translate(311.1,169.2) scale(1.27,1)"><text x="0" y="0" font-size="10.5" text-anchor="middle">1400</text></g>
<g transform="translate(310.5,354.5) scale(1.27,1)"><text x="0" y="0" font-size="10.5" text-anchor="middle">1400</text></g>
<g transform="translate(44.5,160.3) scale(1.27,1)"><text x="0" y="0" font-size="10.5" text-anchor="end">0</text></g>
<g transform="translate(44.5,130.16) scale(1.27,1)"><text x="0" y="0" font-size="10.5" text-anchor="end">1</text></g>
<g transform="translate(44.5,100.02) scale(1.27,1)"><text x="0" y="0" font-size="10.5" text-anchor="end">2</text></g>
<g transform="translate(44.5,69.88000000000001) scale(1.27,1)"><text x="0" y="0" font-size="10.5" text-anchor="end">3</text></g>
<g transform="translate(44.5,39.74000000000001) scale(1.27,1)"><text x="0" y="0" font-size="10.5" text-anchor="end">4</text></g>
<g transform="translate(44.5,9.600000000000012) scale(1.27,1)"><text x="0" y="0" font-size="10.5" text-anchor="end">5</text></g>
<g transform="translate(44.5,344.6) scale(1.27,1)"><text x="0" y="0" font-size="10.5" text-anchor="end">0</text></g>
<g transform="translate(44.5,319.73333333333335) scale(1.27,1)"><text x="0" y="0" font-size="10.5" text-anchor="end">2</text></g>
<g transform="translate(44.5,294.8666666666667) scale(1.27,1)"><text x="0" y="0" font-size="10.5" text-anchor="end">4</text></g>
<g transform="translate(44.5,270.0) scale(1.27,1)"><text x="0" y="0" font-size="10.5" text-anchor="end">6</text></g>
<g transform="translate(44.5,245.13333333333333) scale(1.27,1)"><text x="0" y="0" font-size="10.5" text-anchor="end">8</text></g>
<g transform="translate(44.5,220.26666666666665) scale(1.27,1)"><text x="0" y="0" font-size="10.5" text-anchor="end">10</text></g>
<g transform="translate(44.5,195.4) scale(1.27,1)"><text x="0" y="0" font-size="10.5" text-anchor="end">12</text></g>
<g transform="translate(133.5,180.2) scale(1.29,1)"><text x="0" y="0" font-size="10.5" fill="#000" color="#000"><tspan font-size="10.50" dy="0.00">energy E</tspan><tspan font-size="8.40" dy="3.15">i</tspan><tspan font-size="10.50" dy="-3.15"> , MeV</tspan></text></g>
<g transform="translate(132.8,366.0) scale(1.29,1)"><text x="0" y="0" font-size="10.5" fill="#000" color="#000"><tspan font-size="10.50" dy="0.00">energy E</tspan><tspan font-size="8.40" dy="3.15">i</tspan><tspan font-size="10.50" dy="-3.15"> , MeV</tspan></text></g>
<g transform="translate(12.7,146.8) rotate(-90) scale(1,1.27)"><text x="0" y="0" font-size="10.5"><tspan font-size="10.50" dy="0.00">number of particles dN</tspan><tspan font-size="8.40" dy="3.15">i</tspan><tspan font-size="10.50" dy="-3.15">/dE</tspan><tspan font-size="8.40" dy="3.15">i</tspan><tspan font-size="10.50" dy="-3.15"> ,</tspan></text></g>
<g transform="translate(30.2,124.0) rotate(-90) scale(1,1.27)"><text x="0" y="0" font-size="10.5"><tspan font-size="10.50" dy="0.00">10</tspan><tspan font-size="8.40" dy="-4.73">14</tspan><tspan font-size="10.50" dy="4.73"> cm</tspan><tspan font-size="8.40" dy="-4.73">-1</tspan><tspan font-size="10.50" dy="4.73">MeV</tspan><tspan font-size="8.40" dy="-4.73">-1</tspan></text></g>
<g transform="translate(12.7,330.5) rotate(-90) scale(1,1.27)"><text x="0" y="0" font-size="10.5"><tspan font-size="10.50" dy="0.00">number of particles dN</tspan><tspan font-size="8.40" dy="3.15">i</tspan><tspan font-size="10.50" dy="-3.15">/dE</tspan><tspan font-size="8.40" dy="3.15">i</tspan><tspan font-size="10.50" dy="-3.15"> ,</tspan></text></g>
<g transform="translate(30.2,305.0) rotate(-90) scale(1,1.27)"><text x="0" y="0" font-size="10.5"><tspan font-size="10.50" dy="0.00">10</tspan><tspan font-size="8.40" dy="-4.73">13</tspan><tspan font-size="10.50" dy="4.73"> cm</tspan><tspan font-size="8.40" dy="-4.73">-1</tspan><tspan font-size="10.50" dy="4.73">MeV</tspan><tspan font-size="8.40" dy="-4.73">-1</tspan></text></g>
</svg>
</body></html>
